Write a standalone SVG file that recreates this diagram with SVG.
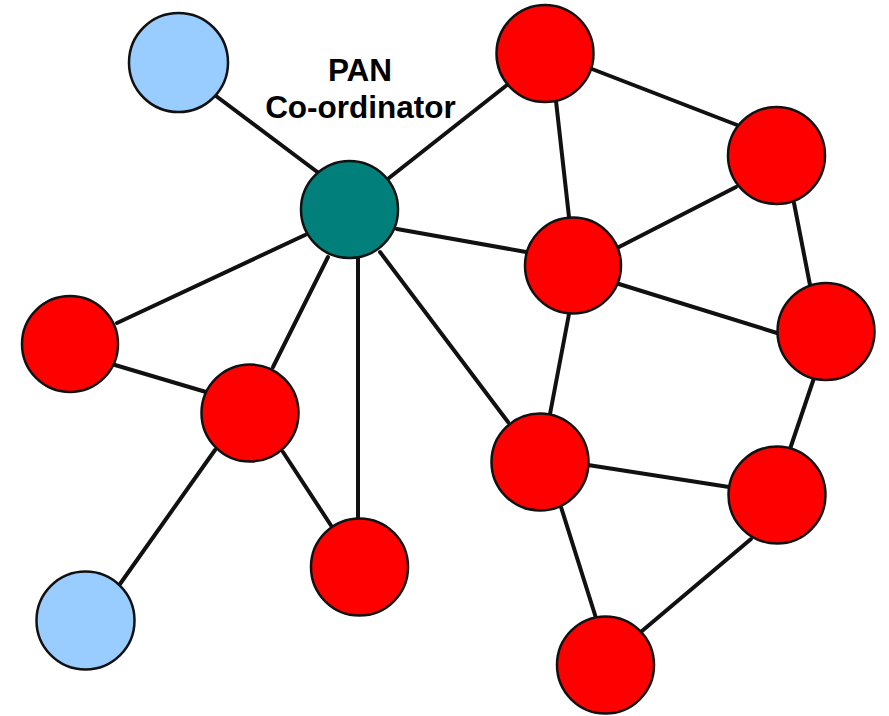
<svg xmlns="http://www.w3.org/2000/svg" width="889" height="716" viewBox="0 0 889 716">
<style>
.edge{stroke:#111;stroke-width:4;stroke-linecap:round;fill:none}
.n{stroke:#111;stroke-width:2.5}
.red{fill:#FF0000}
.blue{fill:#99CCFF}
.teal{fill:#007F7B}
.lbl{font-family:"Liberation Sans",Arial,sans-serif;font-weight:bold;font-size:31.5px;fill:#000;text-anchor:middle}
</style>
<rect width="889" height="716" fill="#fff"/>
<g id="connectors">
<line class="edge" x1="212" y1="93" x2="320" y2="174"/>
<line class="edge" x1="389" y1="178" x2="507" y2="85"/>
<line class="edge" x1="397" y1="229" x2="526" y2="252"/>
<line class="edge" x1="117" y1="323" x2="305" y2="235"/>
<line class="edge" x1="273" y1="367" x2="328" y2="257"/>
<line class="edge" x1="358" y1="256" x2="358" y2="519"/>
<line class="edge" x1="380" y1="252" x2="508" y2="422"/>
<line class="edge" x1="592" y1="69" x2="737" y2="125"/>
<line class="edge" x1="556" y1="101" x2="569" y2="217"/>
<line class="edge" x1="619" y1="247" x2="736" y2="187"/>
<line class="edge" x1="794" y1="203" x2="810" y2="285"/>
<line class="edge" x1="619" y1="284" x2="777" y2="333"/>
<line class="edge" x1="569" y1="314" x2="550" y2="414"/>
<line class="edge" x1="814" y1="378" x2="790" y2="449"/>
<line class="edge" x1="588" y1="465" x2="729" y2="487"/>
<line class="edge" x1="561" y1="507" x2="596" y2="618"/>
<line class="edge" x1="751" y1="539" x2="642" y2="631"/>
<line class="edge" x1="115" y1="365" x2="206" y2="392"/>
<line class="edge" x1="283" y1="452" x2="332" y2="527"/>
<line class="edge" x1="215" y1="450" x2="120" y2="584"/>
</g>
<g id="n_blue_top"><circle class="n blue" cx="178.5" cy="62.5" r="49.5"/></g>
<g id="n_pan"><circle class="n teal" cx="349.5" cy="209.5" r="48.5"/></g>
<g id="n_label"><text class="lbl" x="360" y="81">PAN</text><text class="lbl" x="360.5" y="118">Co-ordinator</text></g>
<g id="n_top"><circle class="n red" cx="545" cy="53.5" r="48.5"/></g>
<g id="n_right_top"><circle class="n red" cx="776.5" cy="155.5" r="48.5"/></g>
<g id="n_center"><circle class="n red" cx="573" cy="265.5" r="48"/></g>
<g id="n_right_mid"><circle class="n red" cx="826" cy="331.5" r="48.5"/></g>
<g id="n_left"><circle class="n red" cx="70" cy="344" r="48"/></g>
<g id="n_mid_left"><circle class="n red" cx="250" cy="413" r="48.5"/></g>
<g id="n_center_lower"><circle class="n red" cx="540" cy="462" r="48.5"/></g>
<g id="n_right_lower"><circle class="n red" cx="777" cy="495" r="48.5"/></g>
<g id="n_bottom_center"><circle class="n red" cx="359.5" cy="567" r="48.5"/></g>
<g id="n_blue_bottom"><circle class="n blue" cx="85.5" cy="620.5" r="49"/></g>
<g id="n_bottom"><circle class="n red" cx="605.5" cy="665" r="48.5"/></g>
</svg>
